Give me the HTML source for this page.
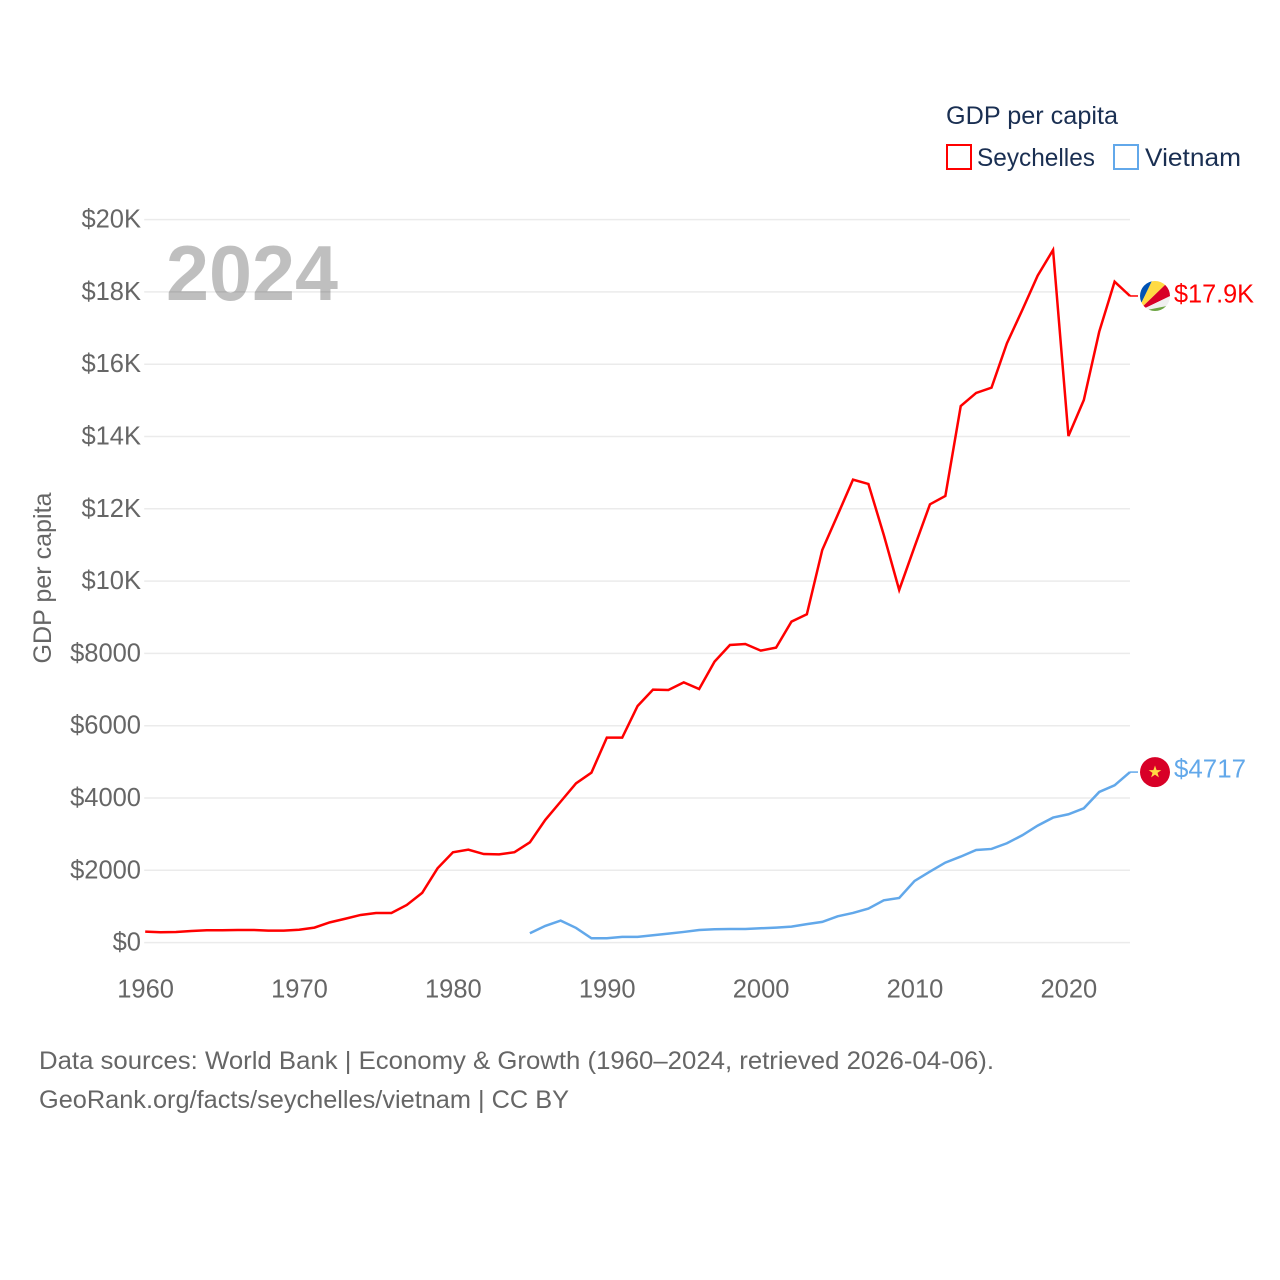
<!DOCTYPE html>
<html lang="en">
<head>
<meta charset="utf-8">
<title>GDP per capita: Seychelles and Vietnam</title>
<style>
html,body{margin:0;padding:0;background:#fff;}
svg{display:block;}
text{font-family:"Liberation Sans",sans-serif;}
</style>
</head>
<body>
<svg id="chart" xmlns="http://www.w3.org/2000/svg" width="1280" height="1280" viewBox="0 0 1280 1280">
  <rect x="0" y="0" width="1280" height="1280" fill="#ffffff"/>
  <g id="grid"></g>
  <g id="y-ticks"></g>
  <g id="x-ticks"></g>
  <text transform="rotate(-90 51 578)" x="51" y="578" text-anchor="middle" font-size="25" fill="#666666" textLength="171" lengthAdjust="spacingAndGlyphs">GDP per capita</text>
  <text x="166" y="300" font-size="78" font-weight="700" fill="#000000" fill-opacity="0.25" textLength="172" lengthAdjust="spacingAndGlyphs">2024</text>
  <g id="series"></g>

  <g id="flag-seychelles">
    <clipPath id="clip-sc"><circle cx="0" cy="0" r="15"/></clipPath>
    <g clip-path="url(#clip-sc)">
      <polygon points="-18,16 -30,-30 -0.6,-20" fill="#0052b4"/>
      <polygon points="-18,16 -30,16 -30,-30" fill="#0052b4"/>
      <polygon points="-18,16 -0.6,-20 19.3,-20" fill="#ffda44"/>
      <polygon points="-18,16 19.3,-20 25,-20 25,-4.6" fill="#d80027"/>
      <polygon points="-18,16 25,-4.6 25,7.4" fill="#f0f0f0"/>
      <polygon points="-18,16 25,7.4 25,20 -18,20" fill="#6da544"/>
    </g>
  </g>
  <g id="flag-vietnam">
    <circle cx="0" cy="0" r="15" fill="#d80027"/>
    <polygon points="0,-6.6 1.6,-2 6.3,-2 2.5,0.8 3.9,5.3 0,2.5 -3.9,5.3 -2.5,0.8 -6.3,-2 -1.6,-2" fill="#ffda44"/>
  </g>

  <text x="946" y="124" font-size="25" fill="#1a2f52" textLength="172" lengthAdjust="spacingAndGlyphs">GDP per capita</text>
  <rect x="947" y="145" width="24" height="24" fill="#ffffff" stroke="#ff0000" stroke-width="2"/>
  <text x="977" y="166" font-size="25" fill="#1a2f52" textLength="118" lengthAdjust="spacingAndGlyphs">Seychelles</text>
  <rect x="1114" y="145" width="24" height="24" fill="#ffffff" stroke="#62a8ea" stroke-width="2"/>
  <text x="1145" y="166" font-size="25" fill="#1a2f52" textLength="96" lengthAdjust="spacingAndGlyphs">Vietnam</text>

  <text x="39" y="1069" font-size="25" fill="#666666" textLength="955" lengthAdjust="spacingAndGlyphs">Data sources: World Bank | Economy &amp; Growth (1960–2024, retrieved 2026-04-06).</text>
  <text x="39" y="1108" font-size="25" fill="#666666" textLength="530" lengthAdjust="spacingAndGlyphs">GeoRank.org/facts/seychelles/vietnam | CC BY</text>
</svg>

<script>
var years = [1960,1961,1962,1963,1964,1965,1966,1967,1968,1969,1970,1971,1972,1973,1974,1975,1976,1977,1978,1979,1980,1981,1982,1983,1984,1985,1986,1987,1988,1989,1990,1991,1992,1993,1994,1995,1996,1997,1998,1999,2000,2001,2002,2003,2004,2005,2006,2007,2008,2009,2010,2011,2012,2013,2014,2015,2016,2017,2018,2019,2020,2021,2022,2023,2024];
var seychellesValues = [304,286,295,320,340,340,350,350,330,330,355,415,560,660,765,820,820,1040,1375,2055,2500,2570,2450,2440,2500,2775,3393,3900,4407,4702,5670,5670,6546,6998,6989,7200,7016,7772,8233,8261,8077,8160,8879,9082,10861,11829,12807,12687,11276,9755,10953,12124,12355,14844,15204,15351,16578,17500,18450,19159,14014,15010,16900,18283,17887];
var vietnamValues = [null,null,null,null,null,null,null,null,null,null,null,null,null,null,null,null,null,null,null,null,null,null,null,null,null,258,461,609,406,120,120,157,157,203,249,295,350,369,378,378,396,415,443,510,572,728,820,940,1171,1235,1706,1964,2213,2379,2563,2591,2748,2969,3236,3458,3550,3716,4167,4352,4717];
var yTickValues = [0,2000,4000,6000,8000,10000,12000,14000,16000,18000,20000];
var yTickLabels = ['$0','$2000','$4000','$6000','$8000','$10K','$12K','$14K','$16K','$18K','$20K'];
var xTickValues = [1960,1970,1980,1990,2000,2010,2020];
var xTickLabels = ['1960','1970','1980','1990','2000','2010','2020'];
var seychellesEndLabel = '$17.9K';
var vietnamEndLabel = '$4717';

var SVG_NS = 'http://www.w3.org/2000/svg';
var plotLeft = 145.2, plotRight = 1130, plotTop = 219.6, plotBottom = 942.6;
var xMin = 1960, xMax = 2024, yMin = 0, yMax = 20000;

function xScale(year) {
  return plotLeft + (year - xMin) / (xMax - xMin) * (plotRight - plotLeft);
}
function yScale(value) {
  return plotBottom - (value - yMin) / (yMax - yMin) * (plotBottom - plotTop);
}
function make(tag, attrs, parent, content) {
  var el = document.createElementNS(SVG_NS, tag);
  for (var k in attrs) { el.setAttribute(k, attrs[k]); }
  if (content !== undefined) { el.textContent = content; }
  parent.appendChild(el);
  return el;
}

var gridGroup = document.getElementById('grid');
var yTickGroup = document.getElementById('y-ticks');
var xTickGroup = document.getElementById('x-ticks');
var seriesGroup = document.getElementById('series');
var svgRoot = document.getElementById('chart');

yTickValues.forEach(function (value, i) {
  var line = make('line', {x1: plotLeft - 1, x2: plotRight, y1: yScale(value), y2: yScale(value), stroke: '#ebebeb', 'stroke-width': 1.5}, gridGroup);
  
  
  var label = make('text', {x: 141, y: yScale(value) + 8, 'text-anchor': 'end', 'font-size': 25.5, fill: '#666666'}, yTickGroup, yTickLabels[i]);
  
  
});

xTickValues.forEach(function (year, i) {
  var label = make('text', {x: xScale(year) + 0.4, y: 997.5, 'text-anchor': 'middle', 'font-size': 25.5, fill: '#666666'}, xTickGroup, xTickLabels[i]);
  
  
});

function linePoints(values) {
  var pts = [];
  values.forEach(function (v, i) {
    if (v !== null) { pts.push(xScale(years[i]).toFixed(2) + ',' + yScale(v).toFixed(2)); }
  });
  return pts.join(' ');
}

var seychellesLine = make('polyline', {points: linePoints(seychellesValues), fill: 'none', stroke: '#ff0000', 'stroke-width': 2.5, 'stroke-linejoin': 'miter'}, seriesGroup);



var vietnamLine = make('polyline', {points: linePoints(vietnamValues), fill: 'none', stroke: '#62a8ea', 'stroke-width': 2.5, 'stroke-linejoin': 'miter'}, seriesGroup);



var seychellesEnd = yScale(seychellesValues[seychellesValues.length - 1]);
var vietnamEnd = yScale(vietnamValues[vietnamValues.length - 1]);

var seychellesLeader = make('line', {x1: plotRight, x2: plotRight + 8, y1: seychellesEnd, y2: seychellesEnd, stroke: '#ff0000', 'stroke-width': 1.5}, seriesGroup);



var vietnamLeader = make('line', {x1: plotRight, x2: plotRight + 8, y1: vietnamEnd, y2: vietnamEnd, stroke: '#62a8ea', 'stroke-width': 1.5}, seriesGroup);



document.getElementById('flag-seychelles').setAttribute('transform', 'translate(1155 ' + seychellesEnd + ')');
document.getElementById('flag-vietnam').setAttribute('transform', 'translate(1155 ' + vietnamEnd + ')');

var seychellesLabel = make('text', {x: 1174, y: seychellesEnd + 6.5, 'font-size': 25.5, fill: '#ff0000', textLength: 80, lengthAdjust: 'spacingAndGlyphs'}, svgRoot, seychellesEndLabel);



var vietnamLabel = make('text', {x: 1174, y: vietnamEnd + 5.5, 'font-size': 25.5, fill: '#62a8ea', textLength: 72, lengthAdjust: 'spacingAndGlyphs'}, svgRoot, vietnamEndLabel);


</script>
</body>
</html>
